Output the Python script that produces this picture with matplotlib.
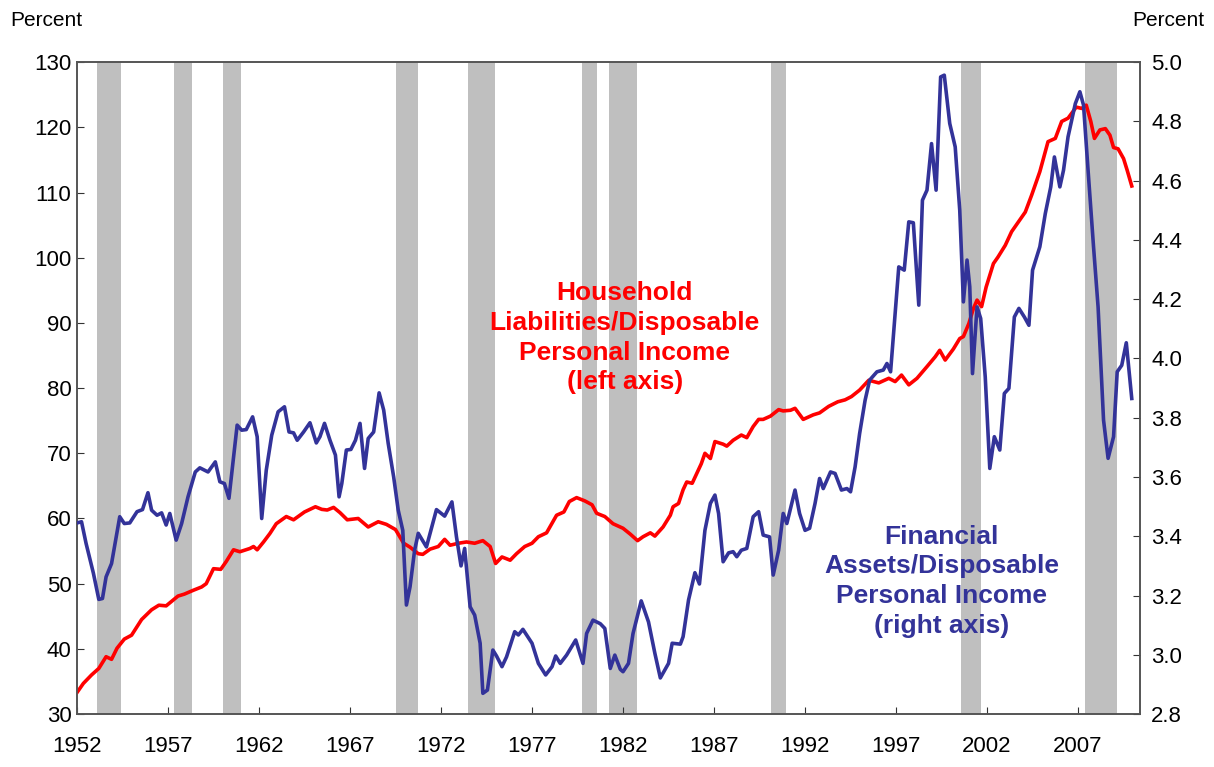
"""Household liabilities and financial assets relative to disposable personal income."""

import matplotlib
matplotlib.use("Agg")
import matplotlib.pyplot as plt
from matplotlib.ticker import FormatStrFormatter

# Liabilities / DPI, percent (left axis)
liab_years = [
    1952.0, 1952.35, 1952.8, 1953.2, 1953.6, 1953.9, 1954.2, 1954.6, 1955.0, 1955.55,
    1956.1, 1956.5, 1956.9, 1957.55, 1957.9, 1958.4, 1958.85, 1959.1, 1959.5, 1959.9,
    1960.2, 1960.6, 1960.95, 1961.5, 1961.7, 1961.9, 1962.25, 1962.6, 1962.95, 1963.5,
    1963.9, 1964.5, 1965.1, 1965.45, 1965.75, 1966.1, 1966.45, 1966.85, 1967.45, 1968.0,
    1968.55, 1969.0, 1969.5, 1969.95, 1970.3, 1970.75, 1971.0, 1971.4, 1971.85, 1972.2,
    1972.5, 1972.95, 1973.4, 1973.85, 1974.3, 1974.7, 1975.0, 1975.35, 1975.8, 1976.15,
    1976.6, 1977.0, 1977.35, 1977.8, 1978.35, 1978.75, 1979.05, 1979.45, 1979.9, 1980.3,
    1980.55, 1981.0, 1981.45, 1982.0, 1982.4, 1982.8, 1983.1, 1983.5, 1983.75, 1984.2,
    1984.6, 1984.75, 1985.05, 1985.3, 1985.5, 1985.8, 1986.05, 1986.3, 1986.5, 1986.8,
    1987.05, 1987.5, 1987.7, 1988.05, 1988.5, 1988.8, 1989.15, 1989.45, 1989.7, 1990.1,
    1990.55, 1990.8, 1991.2, 1991.45, 1991.9, 1992.45, 1992.8, 1993.3, 1993.8, 1994.2,
    1994.55, 1995.0, 1995.5, 1996.05, 1996.6, 1996.95, 1997.3, 1997.7, 1998.15, 1998.7,
    1999.15, 1999.4, 1999.7, 2000.15, 2000.5, 2000.7, 2001.0, 2001.25, 2001.45, 2001.7,
    2001.95, 2002.35, 2002.6, 2003.0, 2003.35, 2003.8, 2004.1, 2004.45, 2004.9, 2005.35,
    2005.75, 2006.1, 2006.45, 2006.9, 2007.2, 2007.45, 2007.7, 2007.9, 2008.2, 2008.5,
    2008.75, 2008.95, 2009.2, 2009.5, 2009.7, 2009.95,
]
liab_vals = [
    33.3, 34.7, 36.0, 37.0, 38.8, 38.4, 40.1, 41.5, 42.1, 44.5,
    46.0, 46.7, 46.6, 48.1, 48.4, 49.0, 49.5, 50.0, 52.3, 52.2,
    53.4, 55.2, 54.9, 55.4, 55.7, 55.2, 56.4, 57.7, 59.2, 60.3,
    59.8, 61.0, 61.8, 61.4, 61.3, 61.7, 60.9, 59.8, 60.0, 58.7,
    59.5, 59.1, 58.3, 56.2, 55.6, 54.6, 54.5, 55.3, 55.7, 56.8,
    55.9, 56.2, 56.4, 56.2, 56.6, 55.7, 53.1, 54.1, 53.6, 54.6,
    55.7, 56.2, 57.2, 57.8, 60.5, 61.0, 62.6, 63.2, 62.7, 62.1,
    60.8, 60.3, 59.2, 58.5, 57.6, 56.6, 57.2, 57.8, 57.3, 58.7,
    60.5, 61.8, 62.3, 64.4, 65.6, 65.4, 66.9, 68.4, 70.0, 69.2,
    71.8, 71.4, 71.1, 72.0, 72.8, 72.4, 74.1, 75.2, 75.2, 75.7,
    76.7, 76.5, 76.6, 76.9, 75.2, 75.9, 76.2, 77.2, 77.9, 78.2,
    78.7, 79.7, 81.2, 80.8, 81.5, 81.0, 82.0, 80.5, 81.5, 83.3,
    84.8, 85.8, 84.3, 86.0, 87.6, 87.9, 89.9, 92.2, 93.5, 92.5,
    95.5, 99.1, 100.1, 101.9, 104.0, 105.8, 107.0, 109.6, 113.2, 117.8,
    118.3, 120.9, 121.4, 123.1, 122.9, 123.4, 120.9, 118.3, 119.6, 119.8,
    118.8, 116.9, 116.7, 115.2, 113.4, 111.0,
]

# Financial assets / DPI, ratio (right axis)
asset_years = [
    1952.0, 1952.25, 1952.5, 1952.9, 1953.2, 1953.4, 1953.6, 1953.9, 1954.35, 1954.6,
    1954.9, 1955.3, 1955.6, 1955.9, 1956.1, 1956.4, 1956.65, 1956.9, 1957.1, 1957.45,
    1957.75, 1958.1, 1958.5, 1958.75, 1959.2, 1959.6, 1959.85, 1960.1, 1960.35, 1960.8,
    1961.05, 1961.3, 1961.65, 1961.9, 1962.15, 1962.4, 1962.7, 1963.05, 1963.4, 1963.65,
    1963.9, 1964.1, 1964.45, 1964.8, 1965.15, 1965.35, 1965.6, 1965.9, 1966.2, 1966.4,
    1966.55, 1966.8, 1967.05, 1967.3, 1967.55, 1967.8, 1968.0, 1968.3, 1968.6, 1968.85,
    1969.1, 1969.4, 1969.65, 1969.9, 1970.1, 1970.3, 1970.55, 1970.75, 1971.2, 1971.75,
    1972.2, 1972.6, 1972.85, 1973.1, 1973.3, 1973.6, 1973.85, 1974.15, 1974.3, 1974.55,
    1974.85, 1975.05, 1975.35, 1975.6, 1976.05, 1976.25, 1976.5, 1977.0, 1977.35, 1977.75,
    1978.1, 1978.3, 1978.55, 1978.9, 1979.4, 1979.8, 1980.0, 1980.35, 1980.75, 1981.0,
    1981.3, 1981.55, 1981.85, 1982.0, 1982.3, 1982.55, 1983.0, 1983.4, 1983.75, 1984.05,
    1984.5, 1984.7, 1985.15, 1985.3, 1985.6, 1985.95, 1986.2, 1986.5, 1986.8, 1987.05,
    1987.25, 1987.5, 1987.8, 1988.05, 1988.25, 1988.5, 1988.8, 1989.15, 1989.45, 1989.7,
    1990.05, 1990.25, 1990.55, 1990.8, 1991.0, 1991.45, 1991.7, 1992.0, 1992.25, 1992.55,
    1992.8, 1993.0, 1993.4, 1993.65, 1994.0, 1994.3, 1994.5, 1994.75, 1995.0, 1995.3,
    1995.55, 1995.95, 1996.3, 1996.5, 1996.7, 1996.95, 1997.15, 1997.45, 1997.7, 1997.95,
    1998.25, 1998.45, 1998.7, 1998.95, 1999.2, 1999.45, 1999.65, 1999.95, 2000.25, 2000.5,
    2000.7, 2000.9, 2001.05, 2001.2, 2001.45, 2001.65, 2001.9, 2002.15, 2002.4, 2002.7,
    2002.95, 2003.2, 2003.5, 2003.75, 2004.05, 2004.3, 2004.5, 2004.9, 2005.2, 2005.5,
    2005.7, 2006.0, 2006.2, 2006.45, 2006.85, 2007.1, 2007.3, 2007.55, 2007.85, 2008.1,
    2008.4, 2008.65, 2008.95, 2009.15, 2009.4, 2009.65, 2009.95,
]
asset_vals = [
    3.445, 3.449, 3.376, 3.276, 3.187, 3.190, 3.263, 3.308, 3.466, 3.443,
    3.445, 3.483, 3.490, 3.547, 3.488, 3.471, 3.479, 3.438, 3.477, 3.387,
    3.443, 3.533, 3.617, 3.631, 3.617, 3.651, 3.584, 3.578, 3.528, 3.775,
    3.758, 3.760, 3.803, 3.736, 3.460, 3.623, 3.741, 3.820, 3.837, 3.752,
    3.749, 3.724, 3.752, 3.783, 3.715, 3.736, 3.781, 3.724, 3.674, 3.533,
    3.578, 3.691, 3.693, 3.724, 3.781, 3.629, 3.730, 3.752, 3.884, 3.826,
    3.713, 3.600, 3.488, 3.420, 3.168, 3.230, 3.353, 3.410, 3.364, 3.490,
    3.468, 3.516, 3.398, 3.300, 3.359, 3.162, 3.134, 3.039, 2.870, 2.881,
    3.016, 2.996, 2.960, 2.993, 3.078, 3.067, 3.086, 3.039, 2.971, 2.932,
    2.960, 2.996, 2.971, 2.999, 3.050, 2.971, 3.072, 3.117, 3.105, 3.089,
    2.954, 2.999, 2.951, 2.943, 2.971, 3.072, 3.182, 3.111, 3.005, 2.922,
    2.971, 3.039, 3.036, 3.061, 3.185, 3.277, 3.239, 3.420, 3.511, 3.539,
    3.477, 3.314, 3.344, 3.348, 3.331, 3.353, 3.359, 3.466, 3.483, 3.404,
    3.398, 3.269, 3.353, 3.477, 3.443, 3.556, 3.477, 3.420, 3.427, 3.511,
    3.595, 3.561, 3.617, 3.612, 3.556, 3.561, 3.550, 3.634, 3.747, 3.859,
    3.927, 3.955, 3.961, 3.983, 3.955, 4.152, 4.309, 4.298, 4.461, 4.458,
    4.180, 4.534, 4.568, 4.725, 4.568, 4.950, 4.956, 4.793, 4.714, 4.500,
    4.191, 4.332, 4.242, 3.949, 4.174, 4.135, 3.938, 3.629, 3.736, 3.691,
    3.882, 3.899, 4.140, 4.169, 4.140, 4.112, 4.298, 4.377, 4.489, 4.579,
    4.680, 4.579, 4.635, 4.748, 4.860, 4.900, 4.855, 4.635, 4.377, 4.174,
    3.792, 3.663, 3.736, 3.955, 3.977, 4.053, 3.865,
]

# Recessions (start, end)
recessions = [
    (1953.10, 1954.42), (1957.33, 1958.32), (1960.02, 1961.01), (1969.53, 1970.74),
    (1973.48, 1974.97), (1979.75, 1980.57), (1981.23, 1982.77), (1990.13, 1990.96),
    (2000.57, 2001.67), (2007.38, 2009.14),
]

RED = "#FF0000"
BLUE = "#333399"
TICK_FONT = ["Liberation Sans Narrow", "Liberation Sans", "DejaVu Sans"]

fig = plt.figure(figsize=(12.14, 7.67), dpi=100)
ax = fig.add_axes([0.0634, 0.069, 0.8756, 0.850])
ax2 = ax.twinx()

for start, end in recessions:
    ax.axvspan(start, end, color="#BFBFBF", lw=0, zorder=0)

ax.plot(liab_years, liab_vals, color=RED, lw=2.6, zorder=3)
ax2.plot(asset_years, asset_vals, color=BLUE, lw=2.6, zorder=3)

ax.set_xlim(1952, 2010.4)
ax.set_ylim(30, 130)
ax2.set_ylim(2.8, 5.0)
ax.set_xticks(range(1952, 2010, 5))
ax.set_yticks(range(30, 131, 10))
ax2.set_yticks([2.8 + 0.2 * i for i in range(12)])
ax2.yaxis.set_major_formatter(FormatStrFormatter("%.1f"))

for a in (ax, ax2):
    for s in a.spines.values():
        s.set_color("#555555")
        s.set_linewidth(1.2)
ax.tick_params(axis="both", direction="in", length=5, color="#333333", labelsize=16)
ax.tick_params(axis="x", pad=16)
ax.tick_params(axis="y", pad=4)
ax2.tick_params(axis="y", direction="in", length=5, color="#333333", labelsize=16, pad=8)
for lab in ax.get_xticklabels() + ax.get_yticklabels() + ax2.get_yticklabels():
    lab.set_family(TICK_FONT)

fig.text(10 / 1214, 1 - 20 / 767, "Percent", family=TICK_FONT, fontsize=15,
         ha="left", va="center")
fig.text(1204 / 1214, 1 - 20 / 767, "Percent", family=TICK_FONT, fontsize=15,
         ha="right", va="center")

ax.text(1982.1, 87.7, "Household\nLiabilities/Disposable\nPersonal Income\n(left axis)",
        color=RED, fontsize=19, fontweight="bold", family="Liberation Sans",
        ha="center", va="center", linespacing=1.3, zorder=4)
ax.text(1999.5, 50.4, "Financial\nAssets/Disposable\nPersonal Income\n(right axis)",
        color=BLUE, fontsize=19, fontweight="bold", family="Liberation Sans",
        ha="center", va="center", linespacing=1.3, zorder=4)

fig.savefig("out.png", dpi=100)
